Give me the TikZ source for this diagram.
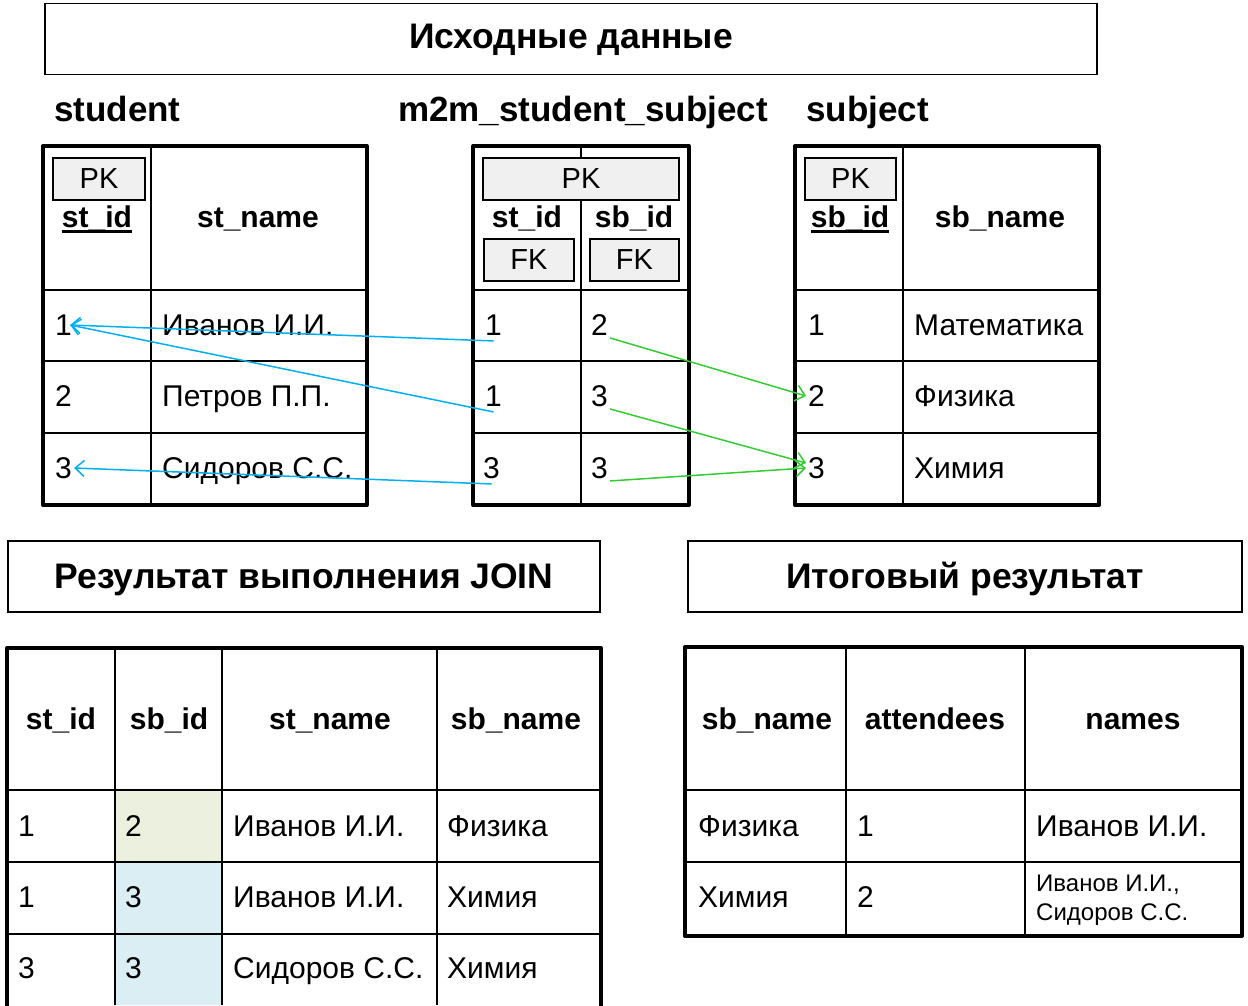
\documentclass[tikz,border=0pt]{standalone}
\usepackage{fontspec}
\setmainfont{Liberation Sans}
\usetikzlibrary{arrows.meta, positioning, calc}
\definecolor{keygray}{HTML}{F0F0F0}
\definecolor{linkblue}{HTML}{00B0F0}
\definecolor{linkgreen}{HTML}{33CC33}
\definecolor{hlgreen}{HTML}{EBF1DE}
\definecolor{hlblue}{HTML}{DAEEF3}
\newcommand{\keyul}[1]{\setbox0\hbox{#1}\rlap{\rule[-5.5pt]{\wd0}{3pt}}\box0}

\tikzset{
  headbox/.style={draw, line width=1.5pt, minimum height=71pt, inner sep=0pt,
    text height=25pt, text depth=2pt, font=\fontsize{35.5}{42}\selectfont\bfseries},
  tabname/.style={anchor=west, inner sep=2pt, text height=25pt, text depth=0pt,
    font=\fontsize{35}{42}\selectfont\bfseries},
  hdr/.style={inner sep=2pt, text height=21.5pt, text depth=0pt,
    font=\fontsize{30}{36}\selectfont\bfseries},
  cell/.style={anchor=west, inner sep=2pt, text height=21.5pt, text depth=0pt,
    font=\fontsize{30}{36}\selectfont},
  keybox/.style={draw, fill=keygray, line width=1.5pt, minimum height=42pt, inner sep=0pt,
    font=\fontsize{29}{34}\selectfont},
  gridline/.style={line width=2pt},
  tblframe/.style={line width=4pt, line join=round},
  stlink/.style={-{Straight Barb[length=9pt, width=16pt]}, line width=1.5pt, linkblue},
  sblink/.style={-{Straight Barb[length=9pt, width=16pt]}, line width=1.5pt, linkgreen}
}

\begin{document}
\begin{tikzpicture}[x=1pt, y=-1pt]
  \useasboundingbox (0,0) rectangle (1248,1005);

  % titles
  \node[headbox, minimum width=1052pt, text depth=7pt] (src) at (571,39) {Исходные данные};
  \node[tabname] (lstudent) at (52,108.5) {student};
  \node[tabname] (lm2m) at (396,108.5) {m2m\_student\_subject};
  \node[tabname] (lsubject) at (804,108.5) {subject};

  % student
  \draw[gridline] (151,146) -- (151,505);
  \foreach \y in {290,361,433} \draw[gridline] (43,\y) -- (367,\y);
  \draw[tblframe] (43,146) rectangle (367,505);
  \node[keybox, minimum width=92pt] (stpk) at (99,179) {PK};
  \node[hdr] (stid) at (97,216.5) {\keyul{st\_id}};
  \node[hdr] (stname) at (258,216.5) {st\_name};
  \node[cell] (st1) at (53,325) {1};
  \node[cell] (st2) at (53,396) {2};
  \node[cell] (st3) at (53,468) {3};
  \node[cell] (stn1) at (160,325) {Иванов И.И.};
  \node[cell] (stn2) at (160,396) {Петров П.П.};
  \node[cell] (stn3) at (160,468) {Сидоров С.С.};

  % m2m_student_subject
  \draw[gridline] (581,146) -- (581,505);
  \foreach \y in {290,361,433} \draw[gridline] (473,\y) -- (689,\y);
  \draw[tblframe] (473,146) rectangle (689,505);
  \node[keybox, minimum width=196pt] (mpk) at (581,179) {PK};
  \node[hdr] (mstid) at (527,216.5) {st\_id};
  \node[hdr] (msbid) at (634,216.5) {sb\_id};
  \node[keybox, minimum width=90pt] (mfka) at (529,260) {FK};
  \node[keybox, minimum width=89pt] (mfkb) at (634.5,260) {FK};
  \node[cell] (ma1) at (483,325) {1};
  \node[cell] (ma2) at (483,396) {1};
  \node[cell] (ma3) at (481,468) {3};
  \node[cell] (mb1) at (589,325) {2};
  \node[cell] (mb2) at (589,396) {3};
  \node[cell] (mb3) at (589,468) {3};

  % subject
  \draw[gridline] (903,146) -- (903,505);
  \foreach \y in {290,361,433} \draw[gridline] (795,\y) -- (1099,\y);
  \draw[tblframe] (795,146) rectangle (1099,505);
  \node[keybox, minimum width=91pt] (sbpk) at (850.5,179) {PK};
  \node[hdr] (sbid) at (850,216.5) {\keyul{sb\_id}};
  \node[hdr] (sbname) at (1000,216.5) {sb\_name};
  \node[cell] (sb1) at (806,325) {1};
  \node[cell] (sb2) at (806,396) {2};
  \node[cell] (sb3) at (806,468) {3};
  \node[cell] (sbn1) at (912,325) {Математика};
  \node[cell] (sbn2) at (912,396) {Физика};
  \node[cell] (sbn3) at (912,468) {Химия};

  % links
  \draw[stlink] ([yshift=-3pt]ma1.south) -- ([xshift=-4pt]st1.east);
  \draw[stlink] ([yshift=-3pt]ma2.south) -- ([xshift=-4pt]st1.east);
  \draw[stlink] ([yshift=-3pt]ma3.south) -- (st3.east);
  \draw[sblink] (mb1.south east) -- (sb2.west);
  \draw[sblink] (mb2.south east) -- ([yshift=5pt]sb3.west);
  \draw[sblink] (mb3.south east) -- (sb3.west);

  % result captions
  \node[headbox, minimum width=592pt] (joinres) at (304,576.5) {Результат выполнения JOIN};
  \node[headbox, minimum width=554pt] (finres) at (965,576.5) {Итоговый результат};

  % JOIN table
  \fill[hlgreen] (115,790) rectangle (222,862);
  \fill[hlblue] (115,862) rectangle (222,1005);
  \foreach \x in {115,222,437} \draw[gridline] (\x,648) -- (\x,1005);
  \foreach \y in {790,862,934} \draw[gridline] (7,\y) -- (601,\y);
  \draw[tblframe] (7,648) rectangle (601,1012);
  \node[hdr] (jstid) at (61,719) {st\_id};
  \node[hdr] (jsbid) at (169,719) {sb\_id};
  \node[hdr] (jstname) at (330,719) {st\_name};
  \node[hdr] (jsbname) at (516,719) {sb\_name};
  \node[cell] (ja1) at (16,826) {1};
  \node[cell] (jb1) at (123,826) {2};
  \node[cell] (jc1) at (231,826) {Иванов И.И.};
  \node[cell] (jd1) at (445,826) {Физика};
  \node[cell] (ja2) at (16,897) {1};
  \node[cell] (jb2) at (123,897) {3};
  \node[cell] (jc2) at (231,897) {Иванов И.И.};
  \node[cell] (jd2) at (445,897) {Химия};
  \node[cell] (ja3) at (16,968) {3};
  \node[cell] (jb3) at (123,968) {3};
  \node[cell] (jc3) at (231,968) {Сидоров С.С.};
  \node[cell] (jd3) at (445,968) {Химия};

  % final table
  \foreach \x in {846,1025} \draw[gridline] (\x,647) -- (\x,936);
  \foreach \y in {790,862} \draw[gridline] (685,\y) -- (1242,\y);
  \draw[tblframe] (685,647) rectangle (1242,936);
  \node[hdr] (fsbname) at (767,719) {sb\_name};
  \node[hdr] (fatt) at (935,719) {attendees};
  \node[hdr] (fnames) at (1133,719) {names};
  \node[cell] (fa1) at (696,826) {Физика};
  \node[cell] (fb1) at (855,826) {1};
  \node[cell] (fc1) at (1034,826) {Иванов И.И.};
  \node[cell] (fa2) at (696,897) {Химия};
  \node[cell] (fb2) at (855,897) {2};
  \node[anchor=west, inner sep=2pt, align=left, font=\fontsize{24}{29}\selectfont] (fc2) at (1034,900) {Иванов И.И.,\\Сидоров С.С.};
\end{tikzpicture}
\end{document}
